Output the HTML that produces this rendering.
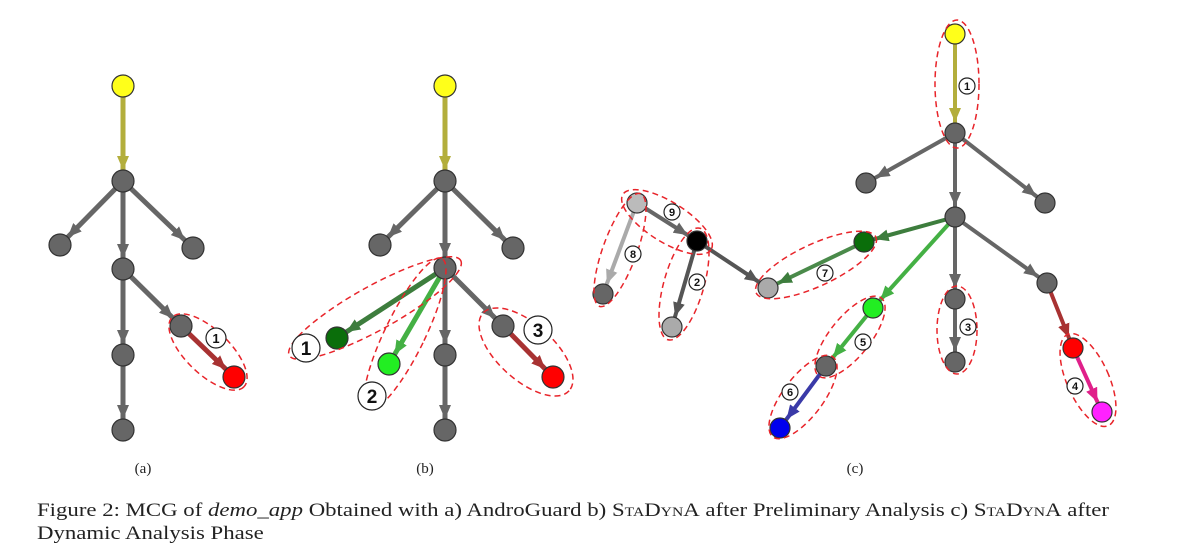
<!DOCTYPE html>
<html><head><meta charset="utf-8"><style>
body{margin:0;background:#fff;width:1200px;height:557px;overflow:hidden}
svg{position:absolute;left:0;top:0}
.cap{position:absolute;left:37px;font-family:"Liberation Serif",serif;font-size:19px;color:#222;white-space:nowrap;transform:scaleX(1.2);transform-origin:0 0}
.sc{font-variant:small-caps}
</style></head><body>
<svg width="1200" height="557" viewBox="0 0 1200 557">
<defs>
<marker id="g" markerUnits="userSpaceOnUse" markerWidth="14" markerHeight="12" refX="25" refY="6" orient="auto"><path d="M0,0L14,6L0,12z" fill="#666"/></marker>
<marker id="y" markerUnits="userSpaceOnUse" markerWidth="14" markerHeight="12" refX="25" refY="6" orient="auto"><path d="M0,0L14,6L0,12z" fill="#b3ae3c"/></marker>
<marker id="r" markerUnits="userSpaceOnUse" markerWidth="14" markerHeight="12" refX="25" refY="6" orient="auto"><path d="M0,0L14,6L0,12z" fill="#a83232"/></marker>
<marker id="dg" markerUnits="userSpaceOnUse" markerWidth="14" markerHeight="12" refX="25" refY="6" orient="auto"><path d="M0,0L14,6L0,12z" fill="#3d7d3d"/></marker>
<marker id="lg" markerUnits="userSpaceOnUse" markerWidth="14" markerHeight="12" refX="25" refY="6" orient="auto"><path d="M0,0L14,6L0,12z" fill="#44b044"/></marker>
<marker id="bl" markerUnits="userSpaceOnUse" markerWidth="14" markerHeight="12" refX="25" refY="6" orient="auto"><path d="M0,0L14,6L0,12z" fill="#3a3aa8"/></marker>
<marker id="pk" markerUnits="userSpaceOnUse" markerWidth="14" markerHeight="12" refX="25" refY="6" orient="auto"><path d="M0,0L14,6L0,12z" fill="#e0208a"/></marker>
<marker id="lt" markerUnits="userSpaceOnUse" markerWidth="14" markerHeight="12" refX="25" refY="6" orient="auto"><path d="M0,0L14,6L0,12z" fill="#aaa"/></marker>
<marker id="dk" markerUnits="userSpaceOnUse" markerWidth="14" markerHeight="12" refX="25" refY="6" orient="auto"><path d="M0,0L14,6L0,12z" fill="#555"/></marker>
</defs>
<g stroke-width="5" stroke-linecap="butt">
<line x1="123" y1="86" x2="123" y2="181" stroke="#b3ae3c" marker-end="url(#y)"/>
<line x1="123" y1="181" x2="60" y2="245" stroke="#666" marker-end="url(#g)"/>
<line x1="123" y1="181" x2="193" y2="248" stroke="#666" marker-end="url(#g)"/>
<line x1="123" y1="181" x2="123" y2="269" stroke="#666" marker-end="url(#g)"/>
<line x1="123" y1="269" x2="123" y2="355" stroke="#666" marker-end="url(#g)"/>
<line x1="123" y1="355" x2="123" y2="430" stroke="#666" marker-end="url(#g)"/>
<line x1="123" y1="269" x2="181" y2="326" stroke="#666" marker-end="url(#g)"/>
<line x1="181" y1="326" x2="234" y2="377" stroke="#a83232" marker-end="url(#r)"/>
<line x1="445" y1="86" x2="445" y2="181" stroke="#b3ae3c" marker-end="url(#y)"/>
<line x1="445" y1="181" x2="380" y2="245" stroke="#666" marker-end="url(#g)"/>
<line x1="445" y1="181" x2="513" y2="248" stroke="#666" marker-end="url(#g)"/>
<line x1="445" y1="181" x2="445" y2="268" stroke="#666" marker-end="url(#g)"/>
<line x1="445" y1="268" x2="445" y2="355" stroke="#666" marker-end="url(#g)"/>
<line x1="445" y1="355" x2="445" y2="430" stroke="#666" marker-end="url(#g)"/>
<line x1="445" y1="268" x2="503" y2="326" stroke="#666" marker-end="url(#g)"/>
<line x1="503" y1="326" x2="553" y2="377" stroke="#a83232" marker-end="url(#r)"/>
<line x1="445" y1="268" x2="337" y2="338" stroke="#3d7d3d" marker-end="url(#dg)"/>
<line x1="445" y1="268" x2="389" y2="364" stroke="#44b044" marker-end="url(#lg)"/>
</g>
<g stroke-width="4">
<line x1="955" y1="34" x2="955" y2="133" stroke="#b3ae3c" marker-end="url(#y)"/>
<line x1="955" y1="133" x2="866" y2="183" stroke="#666" marker-end="url(#g)"/>
<line x1="955" y1="133" x2="1045" y2="203" stroke="#666" marker-end="url(#g)"/>
<line x1="955" y1="133" x2="955" y2="217" stroke="#666" marker-end="url(#g)"/>
<line x1="955" y1="217" x2="864" y2="242" stroke="#3d7d3d" marker-end="url(#dg)"/>
<line x1="864" y1="242" x2="768" y2="288" stroke="#4a8a4a" marker-end="url(#dg)"/>
<line x1="955" y1="217" x2="873" y2="308" stroke="#44b044" marker-end="url(#lg)"/>
<line x1="873" y1="308" x2="826" y2="366" stroke="#44b044" marker-end="url(#lg)"/>
<line x1="826" y1="366" x2="780" y2="428" stroke="#3a3aa8" marker-end="url(#bl)"/>
<line x1="955" y1="217" x2="955" y2="299" stroke="#666" marker-end="url(#g)"/>
<line x1="955" y1="299" x2="955" y2="362" stroke="#666" marker-end="url(#g)"/>
<line x1="955" y1="217" x2="1047" y2="283" stroke="#666" marker-end="url(#g)"/>
<line x1="1047" y1="283" x2="1073" y2="348" stroke="#a83232" marker-end="url(#r)"/>
<line x1="1073" y1="348" x2="1102" y2="412" stroke="#e0208a" marker-end="url(#pk)"/>
<line x1="637" y1="203" x2="697" y2="241" stroke="#666" marker-end="url(#g)"/>
<line x1="637" y1="203" x2="603" y2="294" stroke="#aaa" marker-end="url(#lt)"/>
<line x1="697" y1="241" x2="672" y2="327" stroke="#555" marker-end="url(#dk)"/>
<line x1="697" y1="241" x2="768" y2="288" stroke="#555" marker-end="url(#dk)"/>
</g>
<g stroke="#333" stroke-width="1.2">
<circle cx="123" cy="86" r="11" fill="#ffff1a"/>
<circle cx="123" cy="181" r="11" fill="#666"/><circle cx="60" cy="245" r="11" fill="#666"/><circle cx="193" cy="248" r="11" fill="#666"/>
<circle cx="123" cy="269" r="11" fill="#666"/><circle cx="123" cy="355" r="11" fill="#666"/><circle cx="123" cy="430" r="11" fill="#666"/>
<circle cx="181" cy="326" r="11" fill="#666"/><circle cx="234" cy="377" r="11" fill="#ff0000"/>
<circle cx="445" cy="86" r="11" fill="#ffff1a"/>
<circle cx="445" cy="181" r="11" fill="#666"/><circle cx="380" cy="245" r="11" fill="#666"/><circle cx="513" cy="248" r="11" fill="#666"/>
<circle cx="445" cy="268" r="11" fill="#666"/><circle cx="445" cy="355" r="11" fill="#666"/><circle cx="445" cy="430" r="11" fill="#666"/>
<circle cx="503" cy="326" r="11" fill="#666"/><circle cx="553" cy="377" r="11" fill="#ff0000"/>
<circle cx="337" cy="338" r="11" fill="#0a6e0a"/><circle cx="389" cy="364" r="11" fill="#22ee22"/>
<circle cx="955" cy="34" r="10" fill="#ffff1a"/>
<circle cx="955" cy="133" r="10" fill="#666"/><circle cx="866" cy="183" r="10" fill="#666"/><circle cx="1045" cy="203" r="10" fill="#666"/>
<circle cx="955" cy="217" r="10" fill="#666"/><circle cx="864" cy="242" r="10" fill="#0a6e0a"/><circle cx="768" cy="288" r="10" fill="#aaa"/>
<circle cx="873" cy="308" r="10" fill="#22ee22"/><circle cx="826" cy="366" r="10" fill="#666"/><circle cx="780" cy="428" r="10" fill="#0000ee"/>
<circle cx="955" cy="299" r="10" fill="#666"/><circle cx="955" cy="362" r="10" fill="#666"/><circle cx="1047" cy="283" r="10" fill="#666"/>
<circle cx="1073" cy="348" r="10" fill="#ff0000"/><circle cx="1102" cy="412" r="10" fill="#ff22ff"/>
<circle cx="637" cy="203" r="10" fill="#bbb"/><circle cx="697" cy="241" r="10" fill="#000"/><circle cx="603" cy="294" r="10" fill="#666"/><circle cx="672" cy="327" r="10" fill="#aaa"/>
</g>
<g fill="none" stroke="#e8242a" stroke-width="1.5" stroke-dasharray="6,4">
<ellipse cx="208" cy="352" rx="50" ry="22" transform="rotate(44 208 352)"/>
<ellipse cx="375" cy="308" rx="98" ry="22" transform="rotate(-29 375 308)"/>
<ellipse cx="405" cy="334" rx="20" ry="84" transform="rotate(26 405 334)"/>
<ellipse cx="526" cy="352" rx="58" ry="28" transform="rotate(42 526 352)"/>
<ellipse cx="957" cy="84" rx="22" ry="64"/>
<ellipse cx="957" cy="330" rx="20" ry="44"/>
<ellipse cx="1088" cy="380" rx="21" ry="50" transform="rotate(-24 1088 380)"/>
<ellipse cx="816" cy="265" rx="66" ry="21" transform="rotate(-25 816 265)"/>
<ellipse cx="850" cy="337" rx="20" ry="50" transform="rotate(39 850 337)"/>
<ellipse cx="803" cy="397" rx="20" ry="50" transform="rotate(37 803 397)"/>
<ellipse cx="620" cy="250" rx="17" ry="60" transform="rotate(20 620 250)"/>
<ellipse cx="684" cy="284" rx="20" ry="58" transform="rotate(16 684 284)"/>
<ellipse cx="667" cy="222" rx="52" ry="20" transform="rotate(32 667 222)"/>
</g>
<g font-family="Liberation Sans,sans-serif" font-weight="bold" text-anchor="middle" fill="#111">
<g stroke="#222" stroke-width="1.2" fill="#fff">
<circle cx="216" cy="338" r="10"/><circle cx="306" cy="348" r="14"/><circle cx="372" cy="396" r="14"/><circle cx="538" cy="330" r="14"/>
<circle cx="967" cy="86" r="8"/><circle cx="672" cy="212" r="8"/><circle cx="633" cy="254" r="8"/><circle cx="697" cy="282" r="8"/>
<circle cx="825" cy="273" r="8"/><circle cx="863" cy="342" r="8"/><circle cx="968" cy="327" r="8"/><circle cx="790" cy="392" r="8"/><circle cx="1075" cy="386" r="8"/>
</g>
<text x="216" y="343" font-size="13">1</text>
<text x="306" y="355" font-size="19">1</text><text x="372" y="403" font-size="19">2</text><text x="538" y="337" font-size="19">3</text>
<g font-size="11"><text x="967" y="90">1</text><text x="672" y="216">9</text><text x="633" y="258">8</text><text x="697" y="286">2</text>
<text x="825" y="277">7</text><text x="863" y="346">5</text><text x="968" y="331">3</text><text x="790" y="396">6</text><text x="1075" y="390">4</text></g>
</g>
<g font-family="Liberation Serif,serif" font-size="15" fill="#222" text-anchor="middle">
<text x="143" y="473">(a)</text><text x="425" y="473">(b)</text><text x="855" y="473">(c)</text>
</g>
</svg>
<div class="cap" style="top:500px">Figure 2: MCG of <i>demo_app</i> Obtained with a) AndroGuard b) <span class="sc">StaDynA</span> after Preliminary Analysis c) <span class="sc">StaDynA</span> after</div>
<div class="cap" style="top:523px">Dynamic Analysis Phase</div>
</body></html>
